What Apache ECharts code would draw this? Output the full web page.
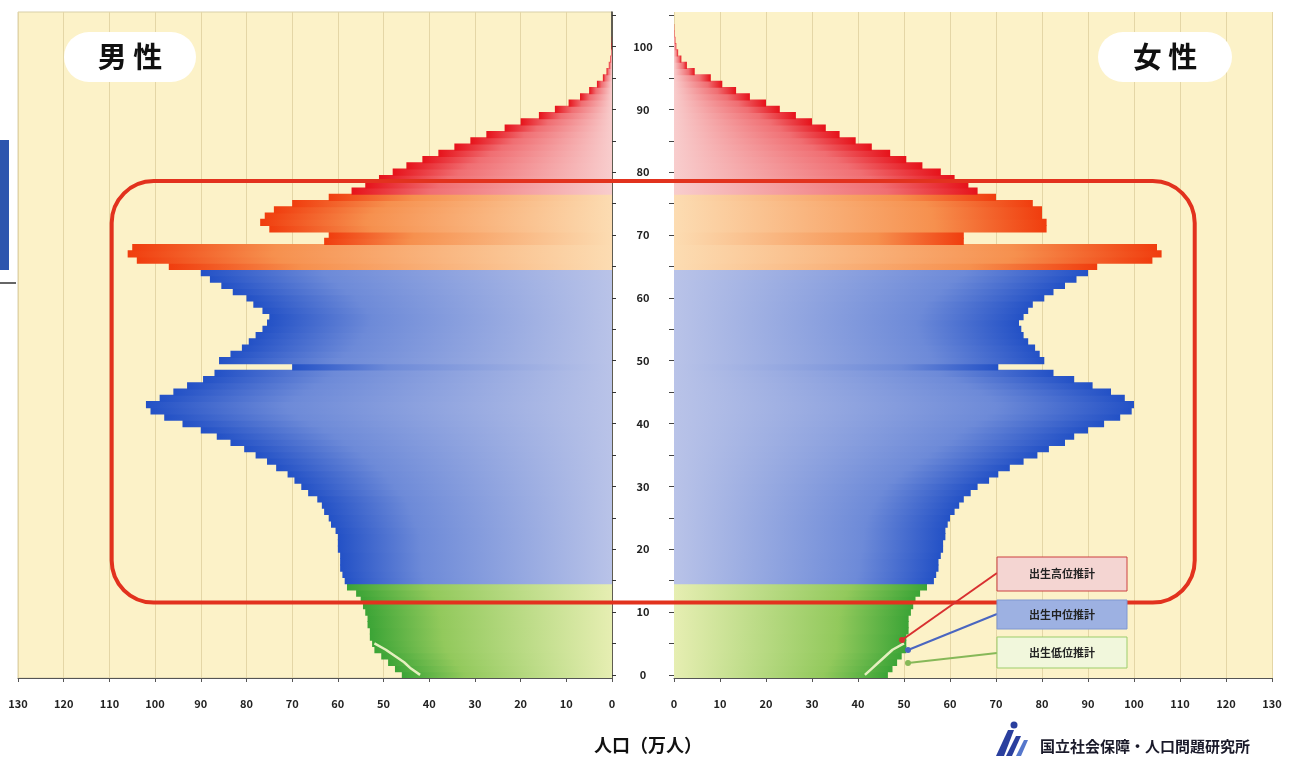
<!DOCTYPE html>
<html><head><meta charset="utf-8">
<script src="https://cdn.jsdelivr.net/npm/echarts@6/dist/echarts.min.js"></script>
<style>html,body{margin:0;padding:0;background:#fff}#c{width:1290px;height:757px}</style>
</head><body><div id="c"></div>
<script>
// ---- data (万人), single-year ages ----
const maleYoung   = [46, 47.5, 49, 50.5, 52, 52.5, 53, 53, 53.5, 53.5, 54, 54.5, 55, 56, 58];            // 0-14
const femaleYoung = [46.5, 47.5, 48.5, 49.5, 50.5, 50.5, 50.5, 51, 51, 51, 51.5, 52, 52.5, 53.5, 55];   // 0-14
const maleWork = [58.5, 59, 59.5, 59.5, 59.5, 60, 60, 60, 60.5, 61.5, 62, 63, 63.5, 64.5, 66.5,
  68, 69.5, 71, 73.5, 75.5, 78, 80.5, 83.5, 86.5, 90, 94, 98, 101, 102, 99,
  96, 93, 89.5, 87, 70, 86, 83.5, 81, 79.5, 78, 76.5, 75.5, 75, 76.5, 78.5,
  80, 83, 85.5, 88, 90];                                                                           // 15-64
const femaleWork = [56.5, 57, 57.5, 57.5, 58, 58.5, 58.5, 59, 59, 59.5, 60, 61, 62, 63, 64.5,
  66, 68.5, 70.5, 73, 76, 79, 81.5, 85, 87, 90, 93.5, 97, 99.5, 100, 98,
  95, 91, 87, 82.5, 70.5, 80.5, 79.5, 78.5, 77, 76, 75.5, 75, 76, 77, 78,
  80.5, 82.5, 85, 87.5, 90];                                                                       // 15-64
const maleOld   = [97, 104, 106, 105, 63, 62, 75, 77, 76, 74, 70, 62];                             // 65-76
const femaleOld = [92, 104, 106, 105, 63, 63, 81, 81, 80, 80, 78, 70];                             // 65-76
const maleRed = [57, 54, 51, 48, 45, 41.5, 38, 34.5, 31, 27.5, 23.5, 20, 16, 12.5, 9.5, 7, 5, 3.3, 2, 1.2,
  0.7, 0.4, 0.2, 0.1, 0.05, 0, 0, 0, 0];                                                           // 77-105
const femaleRed = [66, 64, 61, 58, 54, 50.5, 47, 43, 39.5, 36, 33, 30, 26.5, 23, 20, 16.5, 13.5, 10.5, 8, 4.5,
  2.8, 1.6, 0.9, 0.5, 0.3, 0.15, 0.05, 0, 0];                                                     // 77-105
// low-fertility variant for ages 0-5 (drawn as light lines inside the bars)
const maleLow   = [42, 44, 45.5, 47.5, 49.5, 52];
const femaleLow = [41.5, 43, 44.5, 46, 47.5, 50];
const xTicks = [0, 10, 20, 30, 40, 50, 60, 70, 80, 90, 100, 110, 120, 130];
const ageLabels = ['0', '10', '20', '30', '40', '50', '60', '70', '80', '90', '100'];
const legendNames = ['出生高位推計', '出生中位推計', '出生低位推計'];

const male = maleYoung.concat(maleWork, maleOld, maleRed);
const female = femaleYoung.concat(femaleWork, femaleOld, femaleRed);
const ages = male.map((_, i) => String(i));

const PALETTE = {
  young: ['#3ba436', '#92c95c', '#e6eeb2'],
  work:  ['#2351c6', '#6d8ad8', '#b9c3e8'],
  old:   ['#f03d0e', '#f6904e', '#fcdcb2'],
  red:   ['#e6121a', '#f06e72', '#f8cdcd']
};
function groupOf(i) { return i < 15 ? 'young' : i < 65 ? 'work' : i < 77 ? 'old' : 'red'; }
function barColor(i, outerLeft) {
  const c = PALETTE[groupOf(i)];
  const stops = outerLeft
    ? [{offset: 0, color: c[0]}, {offset: 0.3, color: c[1]}, {offset: 1, color: c[2]}]
    : [{offset: 0, color: c[2]}, {offset: 0.7, color: c[1]}, {offset: 1, color: c[0]}];
  return {type: 'linear', x: 0, y: 0, x2: 1, y2: 0, colorStops: stops};
}

const FONT = "'Noto Sans CJK JP', sans-serif";
const GRID_BG = '#fcf2c8';
const chart = echarts.init(document.getElementById('c'));

const common = {
  type: 'value', min: 0, max: 130, interval: 10,
  axisLine: {show: true, lineStyle: {color: '#555', width: 1}},
  axisTick: {show: true, length: 4, lineStyle: {color: '#555'}},
  splitLine: {show: true, lineStyle: {color: '#e4d6a6', width: 1}},
  axisLabel: {fontFamily: FONT, fontWeight: 'bold', fontSize: 11, color: '#222', margin: 20}
};

chart.setOption({
  animation: false,
  backgroundColor: '#ffffff',
  grid: [
    {left: 18, right: 678, top: 12, bottom: 79, show: true, backgroundColor: GRID_BG, borderWidth: 1, borderColor: '#d8cfa8'},
    {left: 674, right: 18, top: 12, bottom: 79, show: true, backgroundColor: GRID_BG, borderWidth: 0}
  ],
  xAxis: [
    Object.assign({gridIndex: 0, inverse: true}, common),
    Object.assign({gridIndex: 1}, common)
  ],
  yAxis: [
    {gridIndex: 0, type: 'category', data: ages, position: 'right',
      axisLine: {show: true, lineStyle: {color: '#333', width: 1.5}},
      axisTick: {show: true, alignWithLabel: true, length: 4, interval: (i) => i % 5 === 0, lineStyle: {color: '#333'}},
      axisLabel: {interval: (i, v) => ageLabels.indexOf(v) >= 0, margin: 31, align: 'center',
        fontFamily: FONT, fontWeight: 'bold', fontSize: 11, color: '#222'},
      splitLine: {show: false}},
    {gridIndex: 1, type: 'category', data: ages, position: 'left',
      axisLine: {show: false},
      axisTick: {show: true, alignWithLabel: true, length: 5, interval: (i) => i % 5 === 0, lineStyle: {color: '#444'}},
      axisLabel: {show: false}, splitLine: {show: false}}
  ],
  series: [
    {type: 'bar', xAxisIndex: 0, yAxisIndex: 0, barWidth: '115%', barGap: 0,
      data: male.map((v, i) => ({value: v, itemStyle: {color: barColor(i, true)}}))},
    {type: 'bar', xAxisIndex: 1, yAxisIndex: 1, barWidth: '115%', barGap: 0,
      data: female.map((v, i) => ({value: v, itemStyle: {color: barColor(i, false)}}))},
    {type: 'line', xAxisIndex: 0, yAxisIndex: 0, data: maleLow, symbol: 'none', z: 5,
      lineStyle: {color: '#e4efbe', width: 2.5}},
    {type: 'line', xAxisIndex: 1, yAxisIndex: 1, data: femaleLow, symbol: 'none', z: 5,
      lineStyle: {color: '#e4efbe', width: 2.5}}
  ]
});

// ---- annotations ----
function yAt(age) { // fractional age -> pixel
  const a0 = Math.floor(age), f = age - a0;
  const p0 = chart.convertToPixel({yAxisIndex: 0}, String(a0));
  const p1 = chart.convertToPixel({yAxisIndex: 0}, String(a0 + 1));
  return p0 + (p1 - p0) * f;
}
const boxLeft = chart.convertToPixel({xAxisIndex: 0}, 109.5);
const boxRight = chart.convertToPixel({xAxisIndex: 1}, 113.2);
const boxTop = yAt(78.6), boxBottom = yAt(11.5);

const legendBoxes = [
  {y: 557, h: 34, fill: '#f4d5d2', stroke: '#cc4040', line: '#d83030', to: [902, 640], from: 573},
  {y: 600, h: 29, fill: '#9db1e2', stroke: '#7f97d2', line: '#4a66c0', to: [908, 650], from: 614},
  {y: 637, h: 31, fill: '#f1f7dc', stroke: '#9ccd6a', line: '#86b858', to: [908, 663], from: 653}
];
const graphics = [
  {type: 'rect', z: 100, shape: {x: boxLeft, y: boxTop, width: boxRight - boxLeft, height: boxBottom - boxTop, r: 42},
    style: {fill: 'none', stroke: '#e2321e', lineWidth: 4}},
  {type: 'rect', z: 100, shape: {x: 64, y: 32, width: 132, height: 50, r: 25}, style: {fill: '#ffffff'}},
  {type: 'text', z: 101, x: 130, y: 57, style: {text: '男 性', fontFamily: FONT, fontWeight: 'bold', fontSize: 29, fill: '#111', align: 'center', verticalAlign: 'middle'}},
  {type: 'rect', z: 100, shape: {x: 1098, y: 32, width: 134, height: 50, r: 25}, style: {fill: '#ffffff'}},
  {type: 'text', z: 101, x: 1165, y: 57, style: {text: '女 性', fontFamily: FONT, fontWeight: 'bold', fontSize: 29, fill: '#111', align: 'center', verticalAlign: 'middle'}},
  {type: 'text', z: 101, x: 648, y: 745, style: {text: '人口（万人）', fontFamily: FONT, fontWeight: 'bold', fontSize: 18, fill: '#111', align: 'center', verticalAlign: 'middle'}},
  {type: 'rect', z: 101, shape: {x: 0, y: 140, width: 9, height: 130}, style: {fill: '#2d55ae'}},
  {type: 'rect', z: 101, shape: {x: 0, y: 282, width: 16, height: 2}, style: {fill: '#666'}},
  {type: 'text', z: 101, x: 1040, y: 746, style: {text: '国立社会保障・人口問題研究所', fontFamily: FONT, fontWeight: 'bold', fontSize: 15, fill: '#1a1a2a', align: 'left', verticalAlign: 'middle'}},
  {type: 'polygon', z: 101, shape: {points: [[996, 756], [1008, 730], [1014, 730], [1004, 756]]}, style: {fill: '#2a3f9e'}},
  {type: 'polygon', z: 101, shape: {points: [[1006, 756], [1016, 736], [1021, 736], [1012, 756]]}, style: {fill: '#2a3f9e'}},
  {type: 'circle', z: 101, shape: {cx: 1014, cy: 725, r: 3.5}, style: {fill: '#2a3f9e'}},
  {type: 'polygon', z: 101, shape: {points: [[1016, 756], [1024, 740], [1028, 740], [1021, 756]]}, style: {fill: '#5577cc'}}
];
legendBoxes.forEach((b, i) => {
  graphics.push({type: 'line', z: 102, shape: {x1: 997, y1: b.from, x2: b.to[0], y2: b.to[1]}, style: {stroke: b.line, lineWidth: 2}});
  graphics.push({type: 'circle', z: 102, shape: {cx: b.to[0], cy: b.to[1], r: 3}, style: {fill: b.line}});
  graphics.push({type: 'rect', z: 102, shape: {x: 997, y: b.y, width: 130, height: b.h}, style: {fill: b.fill, stroke: b.stroke, lineWidth: 1}});
  graphics.push({type: 'text', z: 103, x: 1062, y: b.y + b.h / 2, style: {text: legendNames[i], fontFamily: FONT, fontWeight: 'bold', fontSize: 11, fill: '#222', align: 'center', verticalAlign: 'middle'}});
});
chart.setOption({graphic: graphics});
</script></body></html>
